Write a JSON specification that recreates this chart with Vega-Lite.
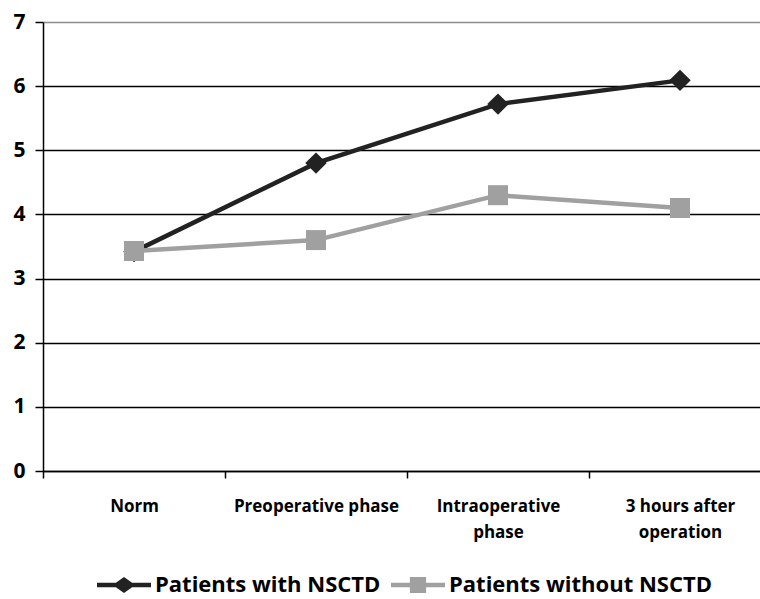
{
  "$schema": "https://vega.github.io/schema/vega-lite/v6.json",
  "autosize": {"type": "none"},
  "width": 728,
  "height": 449,
  "padding": {"left": 43, "top": 22, "right": 0, "bottom": 128},
  "background": "white",
  "config": {
    "view": {"stroke": null},
    "font": "Open Sans"
  },
  "data": {
    "values": [
      {"phase": "Norm", "group": "Patients with NSCTD", "value": 3.42},
      {"phase": "Preoperative phase", "group": "Patients with NSCTD", "value": 4.8},
      {"phase": "Intraoperative phase", "group": "Patients with NSCTD", "value": 5.72},
      {"phase": "3 hours after operation", "group": "Patients with NSCTD", "value": 6.09},
      {"phase": "Norm", "group": "Patients without NSCTD", "value": 3.43},
      {"phase": "Preoperative phase", "group": "Patients without NSCTD", "value": 3.6},
      {"phase": "Intraoperative phase", "group": "Patients without NSCTD", "value": 4.3},
      {"phase": "3 hours after operation", "group": "Patients without NSCTD", "value": 4.1}
    ]
  },
  "encoding": {
    "x": {
      "field": "phase",
      "type": "nominal",
      "sort": ["Norm", "Preoperative phase", "Intraoperative phase", "3 hours after operation"],
      "scale": {"paddingInner": 0, "paddingOuter": 0},
      "axis": {
        "title": null,
        "labelAngle": 0,
        "labelFont": "Open Sans",
        "labelFontWeight": "bold",
        "labelFontSize": 17,
        "labelColor": "#000",
        "labelPadding": 20,
        "labelLineHeight": 26,
        "labelBaseline": "top",
        "labelExpr": "datum.value == 'Intraoperative phase' ? ['Intraoperative', 'phase'] : datum.value == '3 hours after operation' ? ['3 hours after', 'operation'] : datum.value",
        "tickBand": "extent",
        "tickSize": 7,
        "tickColor": "#000",
        "tickWidth": 1.5,
        "domainColor": "#000",
        "domainWidth": 1.5,
        "grid": false
      }
    },
    "y": {
      "field": "value",
      "type": "quantitative",
      "scale": {"domain": [0, 7], "nice": false},
      "axis": {
        "title": null,
        "values": [0, 1, 2, 3, 4, 5, 6, 7],
        "labelFont": "Open Sans",
        "labelFontWeight": "bold",
        "labelFontSize": 21,
        "labelColor": "#000",
        "labelPadding": 10,
        "tickSize": 8,
        "tickColor": "#000",
        "tickWidth": 1.5,
        "domainColor": "#000",
        "domainWidth": 1.5,
        "grid": true,
        "gridColor": {"condition": {"test": "datum.value == 7", "value": "#8c8c8c"}, "value": "#000"},
        "gridWidth": 1.3,
        "gridOpacity": 1
      }
    },
    "color": {
      "field": "group",
      "type": "nominal",
      "scale": {
        "domain": ["Patients with NSCTD", "Patients without NSCTD"],
        "range": ["#222222", "#a0a0a0"]
      },
      "legend": {
        "title": null,
        "orient": "none",
        "direction": "horizontal",
        "legendX": 54,
        "legendY": 536,
        "labelFont": "Open Sans",
        "labelFontWeight": "bold",
        "labelFontSize": 22,
        "labelColor": "#000",
        "labelLimit": 400,
        "labelOffset": 4,
        "columnPadding": 10,
        "symbolSize": 2916,
        "symbolStrokeWidth": 0,
        "symbolOpacity": 1,
        "encode": {
          "symbols": {
            "update": {
              "shape": {"signal": "datum.value == 'Patients with NSCTD' ? 'M-1,-0.08H-0.3L0,-0.3L0.3,-0.08H1V0.08H0.3L0,0.3L-0.3,0.08H-1Z' : 'M-1,-0.08H-0.3V-0.3H0.3V-0.08H1V0.08H0.3V0.3H-0.3V0.08H-1Z'"},
              "fill": {"signal": "datum.value == 'Patients with NSCTD' ? '#222222' : '#a0a0a0'"},
              "fillOpacity": {"value": 1},
              "strokeWidth": {"value": 0}
            }
          }
        }
      }
    }
  },
  "layer": [
    {
      "transform": [{"filter": "datum.group == 'Patients with NSCTD'"}],
      "mark": {"type": "line", "strokeWidth": 4.5}
    },
    {
      "transform": [{"filter": "datum.group == 'Patients with NSCTD'"}],
      "mark": {"type": "point", "shape": "diamond", "filled": true, "size": 460, "opacity": 1}
    },
    {
      "transform": [{"filter": "datum.group == 'Patients without NSCTD'"}],
      "mark": {"type": "line", "strokeWidth": 4.5}
    },
    {
      "transform": [{"filter": "datum.group == 'Patients without NSCTD'"}],
      "mark": {"type": "point", "shape": "square", "filled": true, "size": 400, "opacity": 1}
    }
  ]
}
